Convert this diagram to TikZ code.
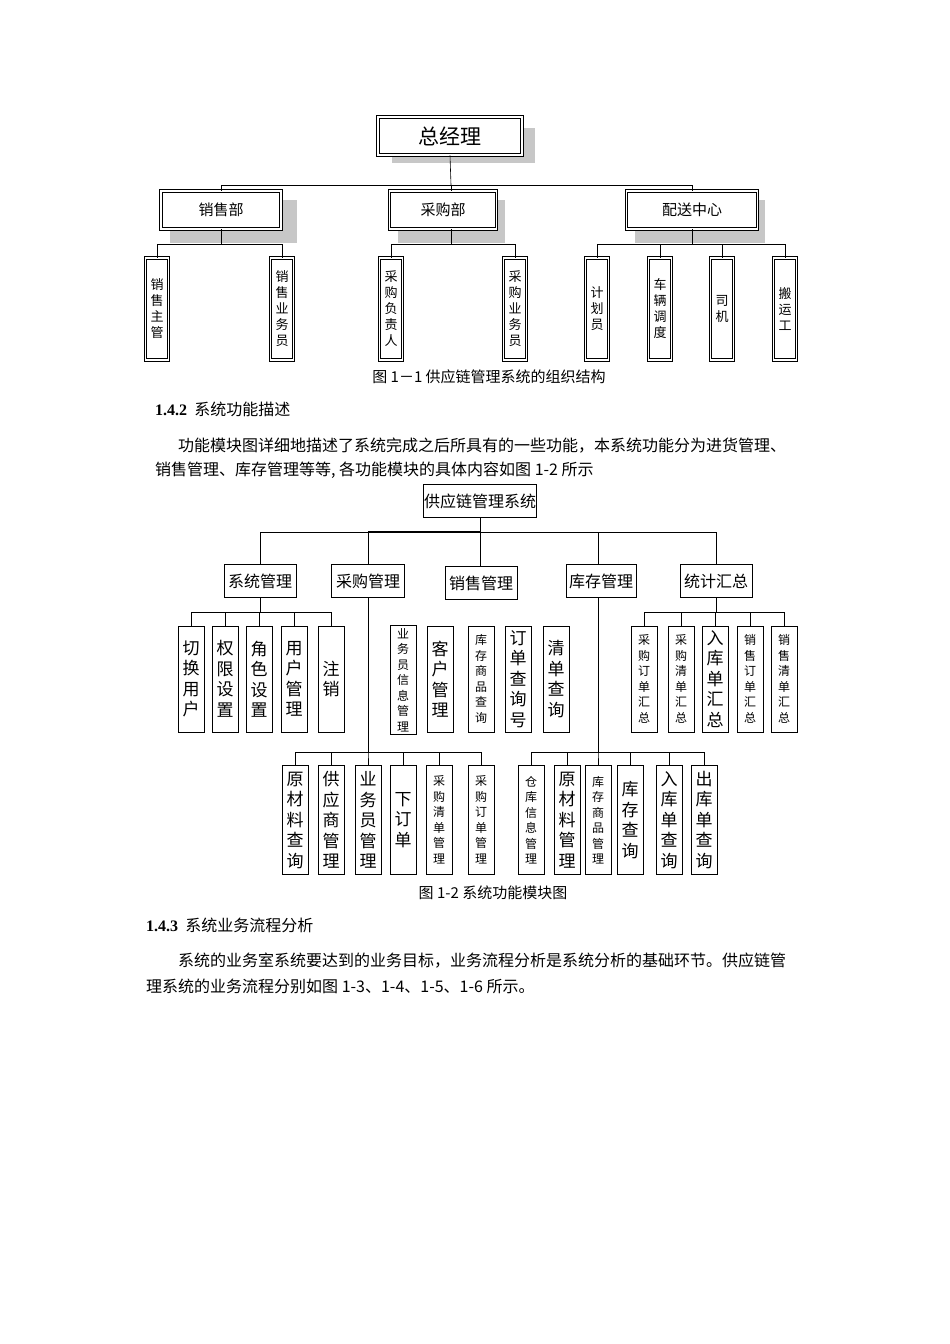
\documentclass[tikz,border=0pt]{standalone}
\usepackage{fontspec}
\setmainfont{Liberation Serif}
\newfontfamily\cjk{Noto Sans CJK SC}
\begin{document}
\begin{tikzpicture}[x=1pt,y=-1pt,
  ob/.style={draw, double=white, double distance=1.3pt, line width=0.9pt, fill=white, inner sep=0pt, font=\cjk\fontsize{15}{17}\selectfont},
  ov/.style={ob, minimum width=23, minimum height=102, font=\cjk\fontsize{13}{16}\selectfont, align=center},
  sb/.style={draw, line width=0.7pt, fill=white, inner sep=0pt, font=\cjk\fontsize{16}{18}\selectfont},
  vl/.style={sb, minimum width=26, minimum height=106, align=center, font=\cjk\fontsize{17}{20.5}\selectfont},
  vs/.style={vl, font=\cjk\fontsize{12}{15.5}\selectfont},
  shd/.style={fill=black!22},
  ln/.style={line width=0.6pt},
  txt/.style={inner sep=0pt, anchor=west, font=\cjk\fontsize{16}{18}\selectfont}]
\useasboundingbox (0,0) rectangle (950,1344);
% ---------- Figure 1-1 ----------
\fill[shd] (392,128) rectangle (535,163);
\fill[shd] (170,200) rectangle (297,243);
\fill[shd] (398,200) rectangle (505,243);
\fill[shd] (635,200) rectangle (765,243);
\node[ob, minimum width=144, minimum height=38, font=\cjk\fontsize{21}{24}\selectfont] (gm) at (450,136) {总经理};
\node[ob, minimum width=120, minimum height=38] (xs) at (221,210) {销售部};
\node[ob, minimum width=107, minimum height=38] (cg) at (443,210) {采购部};
\node[ob, minimum width=131, minimum height=38] (ps) at (692,210) {配送中心};
\node[ov] (a1) at (157,309) {销\\售\\主\\管};
\node[ov] (a2) at (282,309) {销\\售\\业\\务\\员};
\node[ov] (b1) at (391,309) {采\\购\\负\\责\\人};
\node[ov] (b2) at (515,309) {采\\购\\业\\务\\员};
\node[ov] (c1) at (597,309) {计\\划\\员};
\node[ov] (c2) at (660,309) {车\\辆\\调\\度};
\node[ov] (c3) at (722,309) {司\\机};
\node[ov] (c4) at (785,309) {搬\\运\\工};
\coordinate (j0) at (451,185);
\draw[ln] (gm.south) -- (j0);
\draw[ln] (j0) -| (xs.north);
\draw[ln] (j0) -| (ps.north);
\draw[ln] (j0) -- (451,191);
\foreach \p/\c in {xs/a1,xs/a2,ps/c1,ps/c2,ps/c3,ps/c4} \draw[ln] (\p.south) -- ++(0,15) -| (\c.north);
\draw[ln] (443,229) ++(8,0) -- (451,244) -| (b1.north);
\draw[ln] (451,244) -| (b2.north);
\node[inner sep=0pt, font=\cjk\fontsize{15}{17}\selectfont] (cap1) at (489,377) {图 1－1 供应链管理系统的组织结构};
\node[txt] (h142) at (155,409) {\fontsize{16}{18}\selectfont\textbf{\rmfamily 1.4.2}\ \ 系统功能描述};
\node[txt] (p1) at (178,446) {功能模块图详细地描述了系统完成之后所具有的一些功能，本系统功能分为进货管理、};
\node[txt] (p2) at (155,470) {销售管理、库存管理等等, 各功能模块的具体内容如图 1-2 所示};
% ---------- Figure 1-2 ----------
\node[sb, minimum width=113, minimum height=33] (root) at (480,501) {供应链管理系统};
\node[sb, minimum width=72, minimum height=33] (m1) at (260,581) {系统管理};
\node[sb, minimum width=73, minimum height=33] (m2) at (368,581) {采购管理};
\node[sb, minimum width=72, minimum height=33] (m3) at (481,583) {销售管理};
\node[sb, minimum width=70, minimum height=33] (m4) at (601,581) {库存管理};
\node[sb, minimum width=72, minimum height=33] (m5) at (716,581) {统计汇总};
\coordinate (r0) at (480,532);
\draw[ln] (root.south) -- (r0);
\draw[ln] (r0) -| (m1.north);
\draw[ln] (r0) -| (m5.north);
\draw[ln] (r0) -- (480,566);
\draw[line width=1.4pt] (368,532) -- (480,532);
\draw[ln] (368,532) -- (m2.north);
\draw[ln] (598,532) -- (598,565);
% system mgmt children
\node[vl] (s1) at (191,679) {切\\换\\用\\户};
\node[vl] (s2) at (225,679) {权\\限\\设\\置};
\node[vl] (s3) at (259,679) {角\\色\\设\\置};
\node[vl] (s4) at (294,679) {用\\户\\管\\理};
\node[vl] (s5) at (331,679) {注\\销};
\foreach \c in {s1,s2,s3,s4,s5} \draw[ln] (m1.south) -- ++(0,14) -| (\c.north);
% unconnected middle
\node[vs, minimum height=109] (u1) at (403,680) {业\\务\\员\\信\\息\\管\\理};
\node[vl] (u2) at (440,679) {客\\户\\管\\理};
\node[vs] (u3) at (481,679) {库\\存\\商\\品\\查\\询};
\node[vl] (u4) at (518,679) {订\\单\\查\\询\\号};
\node[vl] (u5) at (556,679) {清\\单\\查\\询};
% statistics children
\node[vs] (t1) at (644,679) {采\\购\\订\\单\\汇\\总};
\node[vs] (t2) at (681,679) {采\\购\\清\\单\\汇\\总};
\node[vl] (t3) at (715,679) {入\\库\\单\\汇\\总};
\node[vs] (t4) at (750,679) {销\\售\\订\\单\\汇\\总};
\node[vs] (t5) at (784,679) {销\\售\\清\\单\\汇\\总};
\foreach \c in {t1,t2,t3,t4,t5} \draw[ln] (m5.south) -- ++(0,14) -| (\c.north);
% purchase children
\node[vl, minimum height=109] (q1) at (295,820) {原\\材\\料\\查\\询};
\node[vl, minimum height=109] (q2) at (331,820) {供\\应\\商\\管\\理};
\node[vl, minimum height=109] (q3) at (368,820) {业\\务\\员\\管\\理};
\node[vl, minimum height=109] (q4) at (403,820) {下\\订\\单};
\node[vs, minimum height=109] (q5) at (439,820) {采\\购\\清\\单\\管\\理};
\node[vs, minimum height=109] (q6) at (481,820) {采\\购\\订\\单\\管\\理};
\foreach \c in {q1,q2,q3,q4,q5,q6} \draw[ln] (m2.south) -- ++(0,154) -| (\c.north);
% stock children
\node[vs, minimum height=109] (k1) at (531,820) {仓\\库\\信\\息\\管\\理};
\node[vl, minimum height=109] (k2) at (567,820) {原\\材\\料\\管\\理};
\node[vs, minimum height=109] (k3) at (598,820) {库\\存\\商\\品\\管\\理};
\node[vl, minimum height=109] (k4) at (630,820) {库\\存\\查\\询};
\node[vl, minimum height=109] (k5) at (669,820) {入\\库\\单\\查\\询};
\node[vl, minimum height=109] (k6) at (704,820) {出\\库\\单\\查\\询};
\coordinate (kt) at (598,598);
\foreach \c in {k1,k2,k3,k4,k5,k6} \draw[ln] (kt) -- ++(0,154) -| (\c.north);
\node[inner sep=0pt, font=\cjk\fontsize{15}{17}\selectfont] (cap2) at (493,893) {图 1-2 系统功能模块图};
\node[txt] (h143) at (146,925) {\textbf{\rmfamily 1.4.3}\ \ 系统业务流程分析};
\node[txt] (p3) at (178,961) {系统的业务室系统要达到的业务目标，业务流程分析是系统分析的基础环节。供应链管};
\node[txt] (p4) at (146,986) {理系统的业务流程分别如图 1-3、1-4、1-5、1-6 所示。};
\end{tikzpicture}
\end{document}
